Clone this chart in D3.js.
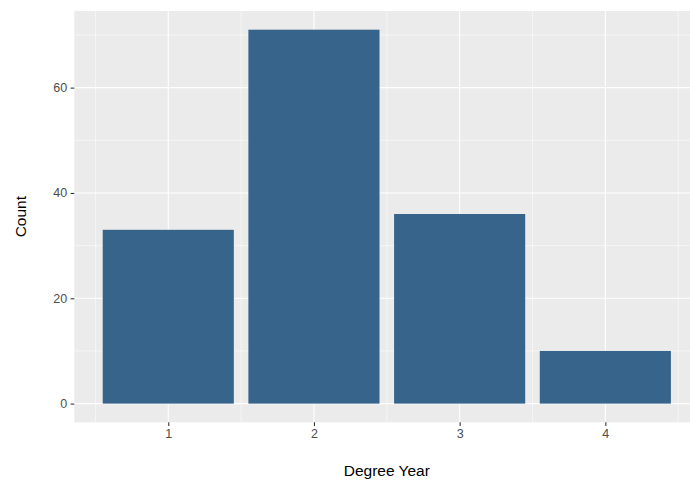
<!DOCTYPE html>
<html><head><meta charset="utf-8">
<script src="https://cdn.jsdelivr.net/npm/d3@7"></script>
<style>body{margin:0;background:#fff;} svg{display:block;font-family:"Liberation Sans",Arial,Helvetica,sans-serif;}</style>
</head><body>
<svg id="c" width="690" height="481"></svg>
<script>
const categories = [1, 2, 3, 4];
const counts = [33, 71, 36, 10];
const yTicks = [0, 20, 40, 60];
const yMinor = [10, 30, 50, 70];
const xMinor = [0.5, 1.5, 2.5, 3.5, 4.5];

const svg = d3.select("#c");
const pL = 74.3, pT = 11, pB = 422.3, pR = 699.3;

const x = d3.scaleLinear().domain([0.355, 4.645]).range([pL, pR]);
const y = d3.scaleLinear().domain([-3.55, 74.55]).range([pB, pT]);

svg.append("rect").attr("x", pL).attr("y", pT).attr("width", pR - pL).attr("height", pB - pT).attr("fill", "#EBEBEB");

const g = svg.append("g");
g.selectAll(".ymin").data(yMinor).join("line").attr("x1", pL).attr("x2", pR)
  .attr("y1", d => y(d)).attr("y2", d => y(d)).attr("stroke", "#fff").attr("stroke-width", 0.53);
g.selectAll(".xmin").data(xMinor).join("line").attr("y1", pT).attr("y2", pB)
  .attr("x1", d => x(d)).attr("x2", d => x(d)).attr("stroke", "#fff").attr("stroke-width", 0.53);
g.selectAll(".ymaj").data(yTicks).join("line").attr("x1", pL).attr("x2", pR)
  .attr("y1", d => y(d)).attr("y2", d => y(d)).attr("stroke", "#fff").attr("stroke-width", 1.07);
g.selectAll(".xmaj").data(categories).join("line").attr("y1", pT).attr("y2", pB)
  .attr("x1", d => x(d)).attr("x2", d => x(d)).attr("stroke", "#fff").attr("stroke-width", 1.07);

svg.selectAll(".bar").data(categories).join("rect")
  .attr("x", d => x(d - 0.45)).attr("width", d => x(d + 0.45) - x(d - 0.45))
  .attr("y", (d, i) => y(counts[i])).attr("height", (d, i) => y(0) - y(counts[i]))
  .attr("fill", "#36648B");

const xAxis = svg.append("g").attr("transform", `translate(0,${pB})`)
  .call(d3.axisBottom(x).tickValues(categories).tickSize(3.67).tickPadding(3.5).tickFormat(d3.format("d")));
const yAxis = svg.append("g").attr("transform", `translate(${pL},0)`)
  .call(d3.axisLeft(y).tickValues(yTicks).tickSize(3.67).tickPadding(3.5).tickFormat(d3.format("d")));
[xAxis, yAxis].forEach(a => {
  a.select(".domain").remove();
  a.selectAll(".tick line").attr("stroke", "#333333").attr("stroke-width", 1.07);
  a.selectAll("text").attr("fill", "#4D4D4D").style("font-size", "12.5px").style("font-family", "Liberation Sans, Arial, sans-serif");
});

svg.append("text").attr("x", (pL + pR) / 2).attr("y", 476).attr("text-anchor", "middle")
  .attr("fill", "#000").style("font-size", "15.5px").text("Degree Year");
svg.append("text").attr("transform", `translate(26,${(pT + pB) / 2}) rotate(-90)`).attr("text-anchor", "middle")
  .attr("fill", "#000").style("font-size", "15.5px").text("Count");
</script>
</body></html>
